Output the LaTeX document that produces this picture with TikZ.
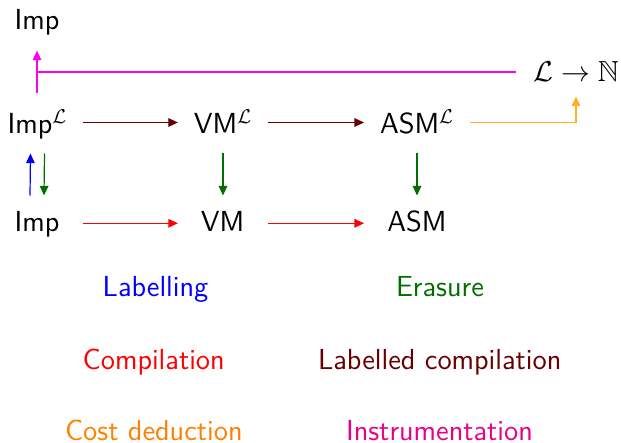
\documentclass[tikz,border=0pt]{standalone}
\usepackage{amssymb}
\usetikzlibrary{arrows.meta}

% one colour per transformation
\definecolor{labelblue}{RGB}{0,0,255}
\definecolor{erasegreen}{RGB}{0,110,0}
\definecolor{compred}{RGB}{255,0,0}
\definecolor{lcompbrown}{RGB}{102,0,0}
\definecolor{costorange}{RGB}{255,128,0}
\definecolor{costarrow}{RGB}{255,178,40}
\definecolor{instarrow}{RGB}{255,0,240}
\definecolor{insttext}{RGB}{230,0,140}

\begin{document}
\begin{tikzpicture}[x=0.5pt,y=-0.5pt,
  every node/.style={font=\fontsize{14.5}{17}\selectfont\sffamily,inner sep=0pt,anchor=base},
  lang/.style={inner xsep=7.8pt},
  conn/.style={line width=0.6pt,-{Triangle[length=4.8pt,width=4.3pt]}},
  plainconn/.style={line width=0.6pt}
]
\useasboundingbox (0,0) rectangle (621,443);

% languages
\node[lang] (impTop) at (37,30)    {Imp};
\node[lang] (impL)   at (37.5,134) {Imp$^{\mathcal{L}}$};
\node[lang] (vmL)    at (223,134)  {VM$^{\mathcal{L}}$};
\node[lang] (asmL)   at (417,134)  {ASM$^{\mathcal{L}}$};
\node[lang] (imp)    at (37,232)   {Imp};
\node[lang] (vm)     at (222.5,232){VM};
\node[lang] (asm)    at (417,232)  {ASM};
\node[inner xsep=8.5pt] (cost) at (576,82) {$\mathcal{L}\to\mathbb{N}$};

% heights of the arrow rows
\coordinate (rowA) at (0,122.5);
\coordinate (rowB) at (0,223.3);
\coordinate (vTop) at (0,153.5);
\coordinate (vBot) at (0,195.5);

% labelled compilation
\draw[conn,lcompbrown] (impL.east |- rowA) -- (vmL.west |- rowA);
\draw[conn,lcompbrown] (vmL.east |- rowA) -- (asmL.west |- rowA);

% compilation
\draw[conn,compred] (impL.east |- rowB) -- (vmL.west |- rowB);
\draw[conn,compred] (vmL.east |- rowB) -- (asmL.west |- rowB);

% labelling and erasure
\draw[conn,labelblue] ([xshift=-3.5pt]imp.center |- vBot) -- ([xshift=-3.5pt]impL.center |- vTop);
\draw[conn,erasegreen] ([xshift=3.5pt]impL.center |- vTop) -- ([xshift=3.5pt]imp.center |- vBot);
\draw[conn,erasegreen] (vmL.center |- vTop) -- (vmL.center |- vBot);
\draw[conn,erasegreen] (asmL.center |- vTop) -- (asmL.center |- vBot);

% cost deduction
\draw[conn,costarrow] (asmL.east |- rowA) -| ([yshift=-7pt]cost.south);

% instrumentation
\draw[conn,instarrow] ([yshift=8.2pt]impL.north -| impTop) -- ([yshift=-7.3pt]impTop.south);
\draw[plainconn,instarrow] (cost.west) -- (cost.west -| impTop);

% legend
\node[labelblue]  (tLab)  at (155.5,297) {Labelling};
\node[erasegreen] (tEra)  at (440,297)   {Erasure};
\node[compred]    (tComp) at (153.7,369) {Compilation};
\node[lcompbrown] (tLcomp) at (439.7,369) {Labelled compilation};
\node[costorange] (tCost) at (153.8,440) {Cost deduction};
\node[insttext]   (tInst) at (439.5,440) {Instrumentation};
\end{tikzpicture}
\end{document}
